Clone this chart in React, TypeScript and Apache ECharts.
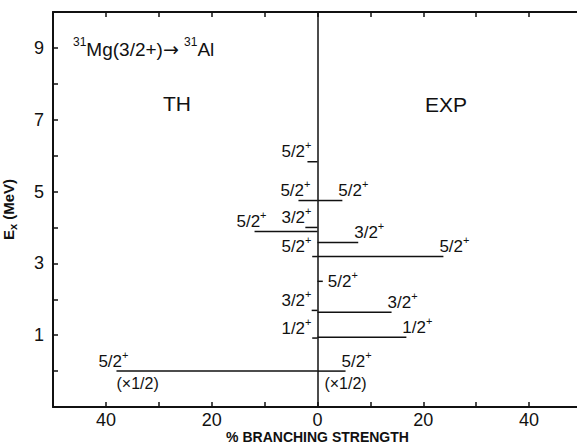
import React, { useEffect, useRef } from 'react';
import * as echarts from 'echarts';

// Theoretical (TH, drawn to the left) levels: excitation energy (MeV), branching strength (%)
const thEnergies = [5.83, 4.75, 4.0, 3.89, 3.19, 1.69, 0.92, 0];
const thStrengths = [1.9, 3.6, 2.3, 11.9, 1.0, 1.1, 1.0, 38];
const thSpins = ['5/2', '5/2', '3/2', '5/2', '5/2', '3/2', '1/2', '5/2'];
const thNotes = ['', '', '', '', '', '', '', '(×1/2)'];

// Experimental (EXP, drawn to the right) levels
const expEnergies = [4.75, 3.58, 3.19, 2.5, 1.64, 0.94, 0];
const expStrengths = [4.7, 7.7, 23.8, 1.0, 14, 16.8, 5.3];
const expSpins = ['5/2', '3/2', '5/2', '5/2', '3/2', '1/2', '5/2'];
const expNotes = ['', '', '', '', '', '', '(×1/2)'];

const xTickLabels = [-40, -20, 0, 20, 40];
const yTickLabels = [1, 3, 5, 7, 9];

const FONT = '"Liberation Sans", Arial, sans-serif';
const INK = '#111';

function makeRender(side: number, spins: string[], notes: string[]) {
  return (params: any, api: any) => {
    const i = params.dataIndex;
    const s = api.value(0);
    const e = api.value(1);
    const p0 = api.coord([0, e]);
    const p1 = api.coord([s, e]);
    const children: any[] = [
      {
        type: 'line',
        shape: { x1: p0[0], y1: p0[1], x2: p1[0], y2: p1[1] },
        style: { stroke: INK, lineWidth: 1.5 },
      },
    ];
    let lx: number, ly: number, align: string;
    if (side < 0) {
      lx = Math.min(p1[0] + 12, p0[0] - 6);
      ly = p0[1] - 10;
      align = 'right';
    } else if (Math.abs(s) < 2) {
      lx = p1[0] + 5;
      ly = p0[1];
      align = 'left';
    } else {
      lx = p1[0] - 4;
      ly = p0[1] - 10;
      align = 'left';
    }
    children.push({
      type: 'text',
      style: {
        x: lx,
        y: ly,
        text: spins[i] + '{s|+}',
        align,
        verticalAlign: 'middle',
        fontSize: 17,
        lineHeight: 24,
        fontFamily: FONT,
        fill: INK,
        rich: { s: { fontSize: 11, lineHeight: 10, verticalAlign: 'top', fontFamily: FONT, fill: INK } },
      },
    });
    if (notes[i]) {
      children.push({
        type: 'text',
        style: {
          x: p1[0],
          y: p0[1] + 12,
          text: notes[i],
          align: side < 0 ? 'left' : 'center',
          verticalAlign: 'middle',
          fontSize: 16,
          fontFamily: FONT,
          fill: INK,
        },
      });
    }
    return { type: 'group', children };
  };
}

export default function App() {
  const ref = useRef<HTMLDivElement>(null);
  useEffect(() => {
    if (!ref.current) return;
    const chart = echarts.init(ref.current, null, { renderer: 'svg' });
    const axisLine = { show: true, onZero: false, lineStyle: { color: INK, width: 2 } };
    const axisTick = { show: true, inside: true, length: 5, lineStyle: { color: INK, width: 1.5 } };
    chart.setOption({
      animation: false,
      backgroundColor: '#fff',
      grid: { left: 53, top: 12, width: 529, height: 395, containLabel: false, outerBoundsMode: 'none' },
      xAxis: [
        {
          type: 'value',
          min: -50,
          max: 50,
          interval: 10,
          position: 'bottom',
          axisLine,
          axisTick,
          splitLine: { show: false },
          axisLabel: {
            margin: 4,
            fontSize: 18,
            lineHeight: 17,
            color: INK,
            fontFamily: FONT,
            formatter: (v: number) => (xTickLabels.includes(v) ? String(Math.abs(v)) : ''),
          },
          name: '% BRANCHING STRENGTH',
          nameLocation: 'middle',
          nameGap: 23,
          nameMoveOverlap: false,
          nameTextStyle: { fontSize: 14, lineHeight: 14, fontWeight: 'bold', color: INK, fontFamily: FONT },
        },
        {
          type: 'value',
          min: -50,
          max: 50,
          interval: 10,
          position: 'top',
          axisLine,
          axisTick,
          splitLine: { show: false },
          axisLabel: { show: false },
        },
      ],
      yAxis: {
        type: 'value',
        min: -1,
        max: 10,
        interval: 1,
        axisLine,
        axisTick,
        splitLine: { show: false },
        axisLabel: {
          margin: 9,
          fontSize: 18,
          color: INK,
          fontFamily: FONT,
          formatter: (v: number) => (yTickLabels.includes(v) ? String(v) : ''),
        },
        name: 'E{sub|x} (MeV)',
        nameLocation: 'middle',
        nameGap: 35,
        nameRotate: 90,
        nameMoveOverlap: false,
        nameTextStyle: {
          fontSize: 15,
          fontWeight: 'bold',
          color: INK,
          fontFamily: FONT,
          lineHeight: 20,
          rich: { sub: { fontSize: 11, fontWeight: 'bold', lineHeight: 12, verticalAlign: 'bottom', fontFamily: FONT, color: INK } },
        },
      },
      graphic: [
        {
          type: 'text',
          left: 73,
          top: 36,
          style: {
            text: '{s|31}Mg(3/2+){a|→} {s|31}Al',
            fontSize: 19,
            lineHeight: 26,
            fontFamily: FONT,
            fill: INK,
            rich: {
              s: { fontSize: 12, lineHeight: 12, verticalAlign: 'top', fontFamily: FONT, fill: INK },
              a: { fontSize: 19, fontFamily: '"DejaVu Sans", sans-serif', fill: INK },
            },
          },
        },
        { type: 'text', left: 163, top: 93, style: { text: 'TH', fontSize: 21, fontFamily: FONT, fill: INK } },
        { type: 'text', left: 425, top: 94, style: { text: 'EXP', fontSize: 21, fontFamily: FONT, fill: INK } },
      ],
      series: [
        {
          type: 'custom',
          name: 'TH',
          renderItem: makeRender(-1, thSpins, thNotes),
          data: thEnergies.map((e, i) => [-thStrengths[i], e]),
          encode: { x: 0, y: 1 },
          clip: false,
          markLine: {
            silent: true,
            symbol: 'none',
            label: { show: false },
            lineStyle: { color: INK, width: 1.5, type: 'solid' },
            data: [{ xAxis: 0 }],
          },
        },
        {
          type: 'custom',
          name: 'EXP',
          renderItem: makeRender(1, expSpins, expNotes),
          data: expEnergies.map((e, i) => [expStrengths[i], e]),
          encode: { x: 0, y: 1 },
          clip: false,
        },
      ],
    });
    return () => chart.dispose();
  }, []);
  return (
    <div style={{ position: 'fixed', left: 0, top: 0, width: 577, height: 445, overflow: 'hidden', background: '#fff' }}>
      <div ref={ref} style={{ width: 600, height: 445 }} />
    </div>
  );
}
